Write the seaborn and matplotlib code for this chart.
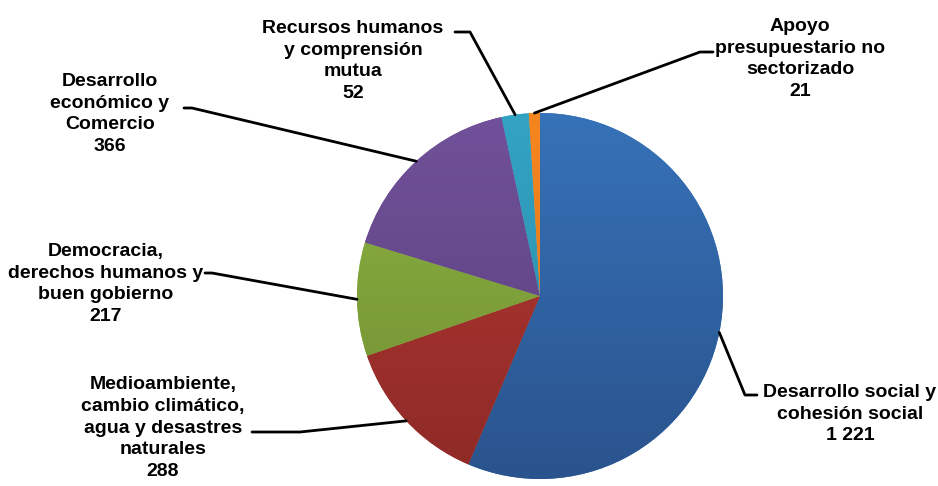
import numpy as np
import matplotlib
matplotlib.use("Agg")
import matplotlib.pyplot as plt
from matplotlib.colors import LinearSegmentedColormap
import seaborn as sns

# datos (orden horario desde arriba)
categorias = ["Desarrollo social y\ncohesión social",
              "Medioambiente,\ncambio climático,\nagua y desastres\nnaturales",
              "Democracia,\nderechos humanos y\nbuen gobierno",
              "Desarrollo\neconómico y\nComercio",
              "Recursos humanos\ny comprensión\nmutua",
              "Apoyo\npresupuestario no\nsectorizado"]
valores = [1221, 288, 217, 366, 52, 21]
etiquetas_valor = ["1 221", "288", "217", "366", "52", "21"]

# colores: arriba claro, abajo oscuro
col_top = ["#3672B8", "#B43833", "#8FB442", "#71519A", "#33A3C4", "#F5861F"]
col_bot = ["#2A538D", "#8E2A27", "#6E8C32", "#583F7A", "#2A8AA6", "#E0741A"]

sns.set_style("white")
plt.rcParams["font.family"] = ["Liberation Sans", "DejaVu Sans"]

W, H = 938, 486
def fy(py):
    return H - py

fig = plt.figure(figsize=(9.38, 4.86), dpi=100)
ax = fig.add_axes([0, 0, 1, 1])

cx, cy, r = 540, fy(296), 183
wedges, _ = ax.pie(valores, startangle=90, counterclock=False, center=(cx, cy),
                   radius=r, colors=col_top, wedgeprops=dict(linewidth=0))

# degradado vertical en cada porcion
grad = np.linspace(0, 1, 256).reshape(-1, 1)
for w, ct, cb in zip(wedges, col_top, col_bot):
    cmap = LinearSegmentedColormap.from_list("g", [ct, cb])
    im = ax.imshow(grad, extent=[cx - r, cx + r, cy - r, cy + r], cmap=cmap,
                   aspect="auto", origin="upper", zorder=w.get_zorder() + 0.1)
    im.set_clip_path(w)

# posiciones de etiquetas (centro del bloque) y codo del conector
texto_pos = [(850, 414), (163, 428), (106, 284), (110, 114), (353, 61), (800, 59)]
codos = [[(745, 395), (757, 395)],
         [(300, 432), (252, 432)],
         [(212, 273), (205, 273)],
         [(192, 108), (184, 108)],
         [(470, 32), (455, 32)],
         [(700, 52), (713, 52)]]

total = sum(valores)
acum = 0
for i, v in enumerate(valores):
    mid = 90 - (acum + v / 2) / total * 360
    acum += v
    px = cx + r * np.cos(np.radians(mid))
    py = cy + r * np.sin(np.radians(mid))
    xs = [px] + [p[0] for p in codos[i]]
    ys = [py] + [fy(p[1]) for p in codos[i]]
    ax.plot(xs, ys, color="black", lw=2, zorder=5)
    tx, ty = texto_pos[i]
    ax.text(tx, fy(ty), categorias[i] + "\n" + etiquetas_valor[i], ha="center",
            va="center", multialignment="center", fontsize=14,
            fontweight="bold", linespacing=1.35, color="black")

ax.set_xlim(0, W)
ax.set_ylim(0, H)
ax.set_aspect("auto")
ax.axis("off")

fig.savefig("out.png", dpi=100)
